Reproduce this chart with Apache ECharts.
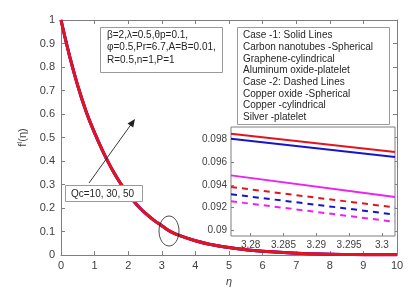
<!DOCTYPE html>
<html><head><meta charset="utf-8">
<script src="https://cdn.jsdelivr.net/npm/echarts@6/dist/echarts.min.js"></script>
<style>html,body{margin:0;padding:0;background:#fff}#c{width:419px;height:292px}</style>
</head><body><div id="c"></div>
<script>
// ---- data ----
var etaVals = [0,0.25,0.5,0.75,1,1.25,1.5,1.75,2,2.25,2.5,2.75,3,3.25,3.5,4,4.5,5,5.5,6,7,8,9,10];
var fPrime  = [1,0.85,0.72,0.61,0.52,0.44,0.37,0.31,0.26,0.215,0.18,0.15,0.125,0.101,0.085,0.061,0.044,0.032,0.023,0.016,0.008,0.004,0.002,0.001];
var xTicks = [0,1,2,3,4,5,6,7,8,9,10];
var yTicks = [0,0.1,0.2,0.3,0.4,0.5,0.6,0.7,0.8,0.9,1];
var insetEta = [3.277, 3.302];
var insetCNTsph   = [0.0985, 0.09689];
var insetGraCyl   = [0.09806, 0.09645];
var insetAlPlt    = [0.09484, 0.09294];
var insetCuOsph   = [0.09382, 0.09201];
var insetCuCyl    = [0.09318, 0.09139];
var insetAgPlt    = [0.09256, 0.09075];
var insetXTicks = [3.28, 3.285, 3.29, 3.295, 3.3];
var insetYTicks = [0.09, 0.092, 0.094, 0.096, 0.098];
var paramLines = ['β=2,λ=0.5,θp=0.1,', 'φ=0.5,Pr=6.7,A=B=0.01,', 'R=0.5,n=1,P=1'];
var legendLines = ['Case -1: Solid Lines','Carbon nanotubes -Spherical','Graphene-cylindrical','Aluminum oxide-platelet','Case -2: Dashed Lines','Copper oxide -Spherical','Copper -cylindrical','Silver -platelet'];
var qcLabel = 'Qc=10, 30, 50';

var RED='#e3141e', BLUE='#1616c8', MAG='#ee22ee';
var FONT='Liberation Sans, Arial, sans-serif';
function pairs(xs, ys){ return xs.map(function(x,i){return [x, ys[i]];}); }

var chart = echarts.init(document.getElementById('c'), null, {renderer:'canvas'});
var axisCol = '#7f7f7f', labCol = '#404040';
function mainAx(extra){
  return Object.assign({
    axisLine:{show:true,onZero:false,lineStyle:{color:axisCol,width:1}},
    axisTick:{show:true,inside:true,length:4,lineStyle:{color:axisCol}},
    splitLine:{show:false},
    axisLabel:{color:labCol,fontSize:11,fontFamily:FONT}
  }, extra);
}
var option = {
  animation:false,
  backgroundColor:'#fff',
  grid:[
    {left:61, top:20, width:336, height:236, show:false},
    {left:231, top:127, width:164, height:109, show:true, backgroundColor:'#fff', borderColor:axisCol, borderWidth:1, z:5}
  ],
  xAxis:[
    mainAx({gridIndex:0,type:'value',min:0,max:10,interval:1,position:'bottom',
      name:'η',nameLocation:'middle',nameGap:19,nameTextStyle:{color:labCol,fontSize:11,fontFamily:FONT,fontStyle:'italic'},
      axisLabel:{color:labCol,fontSize:11,fontFamily:FONT,margin:5}}),
    mainAx({gridIndex:0,type:'value',min:0,max:10,interval:1,position:'top',axisLabel:{show:false}}),
    {gridIndex:1,type:'value',min:insetEta[0],max:insetEta[1],position:'bottom',
      axisLine:{show:false},splitLine:{show:false},
      axisTick:{show:true,inside:true,length:3,customValues:insetXTicks,lineStyle:{color:axisCol}},
      axisLabel:{show:true,customValues:insetXTicks,color:labCol,fontSize:10,fontFamily:FONT,margin:4,
        formatter:function(v){return String(+(+v).toFixed(3));}}, z:6}
  ],
  yAxis:[
    mainAx({gridIndex:0,type:'value',min:0,max:1,interval:0.1,position:'left',
      name:'{f|f}{s|I}{f|(η)}',nameLocation:'middle',nameGap:28,nameRotate:90,
      nameTextStyle:{rich:{f:{fontSize:11,color:labCol,fontFamily:FONT},s:{fontSize:7,color:labCol,fontFamily:FONT,verticalAlign:'top',padding:[0,0,6,0]}}},
      axisLabel:{color:labCol,fontSize:11,fontFamily:FONT,margin:6}}),
    mainAx({gridIndex:0,type:'value',min:0,max:1,interval:0.1,position:'right',axisLabel:{show:false}}),
    {gridIndex:1,type:'value',min:0.0895,max:0.0991,position:'left',
      axisLine:{show:false},splitLine:{show:false},
      axisTick:{show:true,inside:true,length:3,customValues:insetYTicks,lineStyle:{color:axisCol}},
      axisLabel:{show:true,customValues:insetYTicks,color:labCol,fontSize:10,fontFamily:FONT,margin:4,
        formatter:function(v){return String(+(+v).toFixed(3));}}, z:6}
  ],
  series:[
    {type:'line',xAxisIndex:0,yAxisIndex:0,data:pairs(etaVals,fPrime),smooth:true,showSymbol:false,lineStyle:{color:MAG,width:3}},
    {type:'line',xAxisIndex:0,yAxisIndex:0,data:pairs(etaVals,fPrime),smooth:true,showSymbol:false,lineStyle:{color:BLUE,width:3}},
    {type:'line',xAxisIndex:0,yAxisIndex:0,data:pairs(etaVals,fPrime),smooth:true,showSymbol:false,lineStyle:{color:RED,width:3}},
    {type:'line',xAxisIndex:2,yAxisIndex:2,data:pairs(insetEta,insetCNTsph),showSymbol:false,lineStyle:{color:RED,width:2},z:7},
    {type:'line',xAxisIndex:2,yAxisIndex:2,data:pairs(insetEta,insetGraCyl),showSymbol:false,lineStyle:{color:BLUE,width:2},z:7},
    {type:'line',xAxisIndex:2,yAxisIndex:2,data:pairs(insetEta,insetAlPlt),showSymbol:false,lineStyle:{color:MAG,width:2},z:7},
    {type:'line',xAxisIndex:2,yAxisIndex:2,data:pairs(insetEta,insetCuOsph),showSymbol:false,lineStyle:{color:RED,width:2,type:[6,5]},z:7},
    {type:'line',xAxisIndex:2,yAxisIndex:2,data:pairs(insetEta,insetCuCyl),showSymbol:false,lineStyle:{color:BLUE,width:2,type:[6,5]},z:7},
    {type:'line',xAxisIndex:2,yAxisIndex:2,data:pairs(insetEta,insetAgPlt),showSymbol:false,lineStyle:{color:MAG,width:2,type:[6,5]},z:7}
  ]
};
chart.setOption(option);

// annotations (text boxes, arrow, ellipse)
var txtStyle = function(t,x,y){return {type:'text',x:x,y:y,style:{text:t,fill:'#262626',font:'10px '+FONT,textVerticalAlign:'middle'},z:20};};
var g = [];
g.push({type:'rect',shape:{x:100.5,y:27.5,width:122,height:45},style:{fill:'#fff',stroke:'#9a9a9a',lineWidth:1},z:19});
paramLines.forEach(function(t,i){ g.push(txtStyle(t,107,35+i*12.5)); });
g.push({type:'rect',shape:{x:237.5,y:27.5,width:152,height:97},style:{fill:'#fff',stroke:'#9a9a9a',lineWidth:1},z:19});
legendLines.forEach(function(t,i){ g.push(txtStyle(t,243,35.5+i*11.7)); });
g.push({type:'line',shape:{x1:89,y1:183,x2:131,y2:124.5},style:{stroke:'#222',lineWidth:0.9},z:18});
g.push({type:'polygon',shape:{points:[[135,119],[133.2,127.5],[127.5,123.5]]},style:{fill:'#222'},z:18});
g.push({type:'rect',shape:{x:65.5,y:185.5,width:77,height:16},style:{fill:'#fff',stroke:'#9a9a9a',lineWidth:1},z:19});
g.push(txtStyle(qcLabel,71,194));
g.push({type:'ellipse',shape:{cx:169,cy:231,rx:10,ry:15},style:{fill:'none',stroke:'#222',lineWidth:0.8},z:18});
chart.setOption({graphic:g});
</script></body></html>
